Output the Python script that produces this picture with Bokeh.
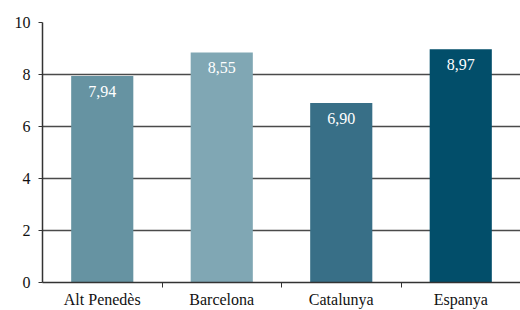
from bokeh.plotting import figure
from bokeh.models import ColumnDataSource, FixedTicker, Range1d, LabelSet
from bokeh.embed import file_html
from bokeh.resources import INLINE

categories = ["Alt Penedès", "Barcelona", "Catalunya", "Espanya"]
values = [7.94, 8.85, 6.90, 8.97]
value_labels = ["7,94", "8,55", "6,90", "8,97"]
colors = ["#6693a2", "#80a7b4", "#386f87", "#024e6a"]
y_ticks = [0, 2, 4, 6, 8, 10]

FONT = "Liberation Serif"

x_pos = [i + 0.5 for i in range(len(categories))]
src = ColumnDataSource(dict(x=x_pos, top=values, color=colors, lab=value_labels, cat=categories))

p = figure(width=520, height=310, output_backend="svg", toolbar_location=None,
           x_range=Range1d(0, len(categories)), y_range=Range1d(0, 10),
           min_border_left=42, min_border_right=0, min_border_top=22, min_border_bottom=5)
p.outline_line_color = None
p.background_fill_color = "white"
p.border_fill_color = "white"

p.vbar(x="x", top="top", width=0.52, bottom=0, fill_color="color", line_color=None, source=src)

labels = LabelSet(x="x", y="top", text="lab", source=src, text_align="center",
                  text_baseline="top", y_offset=-10, text_color="white",
                  text_font=FONT, text_font_size="16px")
p.add_layout(labels)

# y axis
p.yaxis.ticker = FixedTicker(ticks=y_ticks)
p.yaxis.minor_tick_line_color = None
p.yaxis.major_tick_in = 0
p.yaxis.major_tick_out = 4
p.yaxis.major_label_standoff = 8
p.yaxis.axis_line_color = "#333333"
p.yaxis.axis_line_width = 1.5
p.yaxis.major_tick_line_color = "#333333"
p.yaxis.major_label_text_font = FONT
p.yaxis.major_label_text_font_size = "16px"
p.yaxis.major_label_text_color = "#111111"

# x axis with ticks between categories
p.xaxis.ticker = FixedTicker(ticks=x_pos, minor_ticks=list(range(1, len(categories))))
p.xaxis.major_label_overrides = {x: c for x, c in zip(x_pos, categories)}
p.xaxis.major_tick_line_color = None
p.xaxis.major_tick_in = 0
p.xaxis.major_tick_out = 0
p.xaxis.minor_tick_in = 0
p.xaxis.minor_tick_out = 5
p.xaxis.minor_tick_line_color = "#333333"
p.xaxis.axis_line_color = "#333333"
p.xaxis.axis_line_width = 1.5
p.xaxis.major_label_standoff = 3
p.xaxis.major_label_text_font = FONT
p.xaxis.major_label_text_font_size = "16px"
p.xaxis.major_label_text_color = "#111111"

p.xgrid.grid_line_color = None
p.ygrid.ticker = FixedTicker(ticks=y_ticks)
p.ygrid.grid_line_color = "#4a4a4a"
p.ygrid.grid_line_width = 1.3

open("out.html", "w").write(file_html(p, INLINE))
